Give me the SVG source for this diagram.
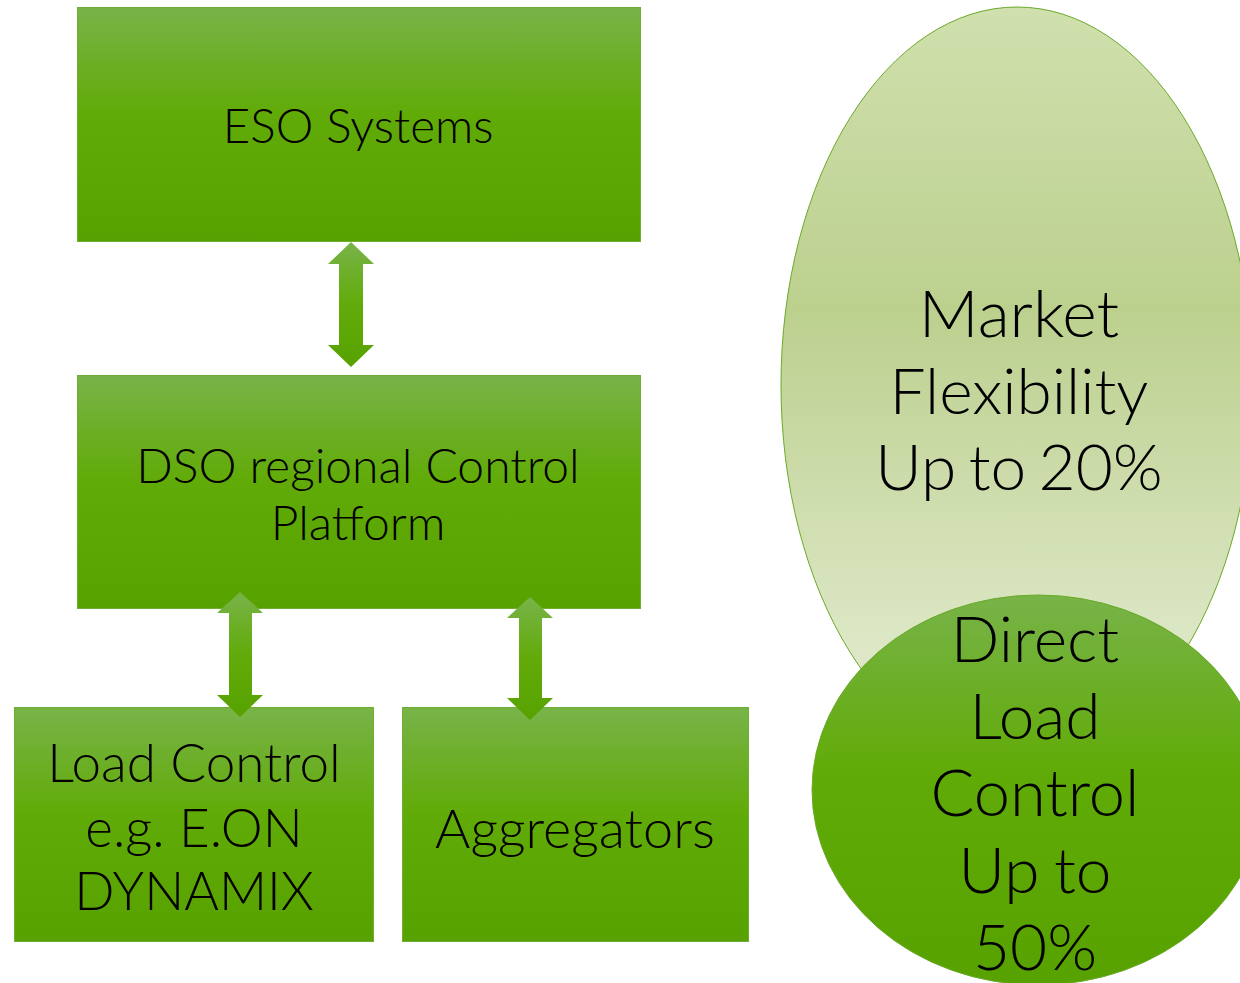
<svg xmlns="http://www.w3.org/2000/svg" width="1240" height="983" viewBox="0 0 1240 983">
  <defs>
    <linearGradient id="boxFill" x1="0" y1="0" x2="0" y2="1">
      <stop offset="0" stop-color="#78b349"/>
      <stop offset="0.45" stop-color="#61ab08"/>
      <stop offset="1" stop-color="#57a200"/>
    </linearGradient>
    <linearGradient id="arrowFill" x1="0" y1="0" x2="0" y2="1">
      <stop offset="0" stop-color="#78b349"/>
      <stop offset="0.5" stop-color="#62ab0a"/>
      <stop offset="1" stop-color="#57a200"/>
    </linearGradient>
    <linearGradient id="paleFill" x1="0" y1="0" x2="0" y2="1">
      <stop offset="0" stop-color="#d0e0ae"/>
      <stop offset="0.4" stop-color="#bcd08e"/>
      <stop offset="1" stop-color="#e8efd9"/>
    </linearGradient>
    <style>
      .box { fill: url(#boxFill); stroke: #6fae33; stroke-width: 1; }
      .arrow { fill: url(#arrowFill); stroke: none; }
      .lbl { font-family: Lato, "Liberation Sans", sans-serif; font-weight: 300; fill: #000; text-anchor: middle; }
      .big { font-size: 64px; }
    </style>
  </defs>

  <!-- overlapping share ellipses -->
  <g id="market-flexibility">
    <ellipse cx="1017" cy="385" rx="236" ry="378" fill="url(#paleFill)" stroke="#6aaa28" stroke-width="1"/>
    <text class="lbl big" x="1019" y="337" style="font-size:66px">Market</text>
    <text class="lbl big" x="1019" y="414">Flexibility</text>
    <text class="lbl big" x="1019" y="490" word-spacing="-5">Up to 20%</text>
  </g>
  <g id="direct-load-control">
    <ellipse cx="1038" cy="790" rx="226" ry="195" fill="url(#boxFill)" stroke="#6aaa28" stroke-width="1"/>
    <text class="lbl big" x="1035" y="662">Direct</text>
    <text class="lbl big" x="1035" y="739">Load</text>
    <text class="lbl big" x="1035" y="816" style="font-size:65px">Control</text>
    <text class="lbl big" x="1035" y="893" word-spacing="-3">Up to</text>
    <text class="lbl big" x="1035" y="970">50%</text>
  </g>

  <!-- hierarchy boxes -->
  <g id="eso-systems">
    <rect class="box" x="77.5" y="7.5" width="563" height="234"/>
    <text class="lbl" x="358" y="143" font-size="47.5">ESO Systems</text>
  </g>
  <g id="dso-platform">
    <rect class="box" x="77.5" y="375.5" width="563" height="233"/>
    <text class="lbl" x="358" y="483" font-size="48">DSO regional Control</text>
    <text class="lbl" x="358" y="540" font-size="48">Platform</text>
  </g>
  <g id="load-control">
    <rect class="box" x="14.5" y="707.5" width="359" height="234"/>
    <text class="lbl" x="194" y="782" font-size="53">Load Control</text>
    <text class="lbl" x="194" y="847" font-size="53">e.g. E.ON</text>
    <text class="lbl" x="194" y="910" font-size="53">DYNAMIX</text>
  </g>
  <g id="aggregators">
    <rect class="box" x="402.5" y="707.5" width="346" height="234"/>
    <text class="lbl" x="575" y="848" font-size="54">Aggregators</text>
  </g>

  <!-- two-way links -->
  <g id="connectors">
    <polygon class="arrow" points="351,242 374,264 363,264 363,345 374,345 351,367 328,345 339,345 339,264 328,264"/>
    <polygon class="arrow" points="240,592 263,613 252,613 252,695 263,695 240,717 217,695 229,695 229,613 217,613"/>
    <polygon class="arrow" points="530,597 553,618 542,618 542,698 553,698 530,720 507,698 519,698 519,618 507,618"/>
  </g>
</svg>
